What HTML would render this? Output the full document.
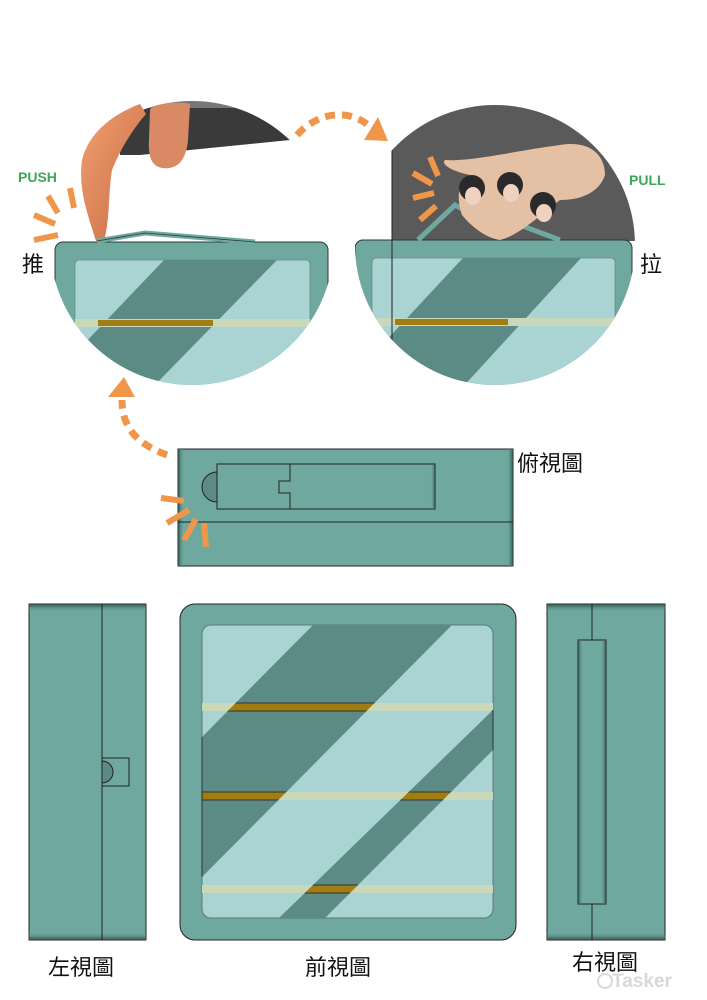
<!DOCTYPE html>
<html><head><meta charset="utf-8"><style>
html,body{margin:0;padding:0;background:#fff;width:707px;height:1000px;overflow:hidden}
svg{display:block}
.lbl{font-family:"Liberation Sans","Noto Sans CJK TC",sans-serif;font-size:22px;fill:#111}
</style></head><body>
<svg width="707" height="1000" viewBox="0 0 707 1000" xmlns="http://www.w3.org/2000/svg">
<defs>
<clipPath id="cL"><circle cx="192" cy="243" r="142"/></clipPath>
<clipPath id="cR"><circle cx="495" cy="245" r="140"/></clipPath>
<clipPath id="darkF"><polygon points="313,625 452,625 202,877 202,737"/><polygon points="493,710 493,750 325,918 279,918"/></clipPath>
<linearGradient id="gt" x1="0" y1="0" x2="0" y2="1"><stop offset="0" stop-color="#2f4f4b"/><stop offset="1" stop-color="#6ea89f" stop-opacity="0"/></linearGradient>
<linearGradient id="gr" x1="1" y1="0" x2="0" y2="0"><stop offset="0" stop-color="#2f4f4b"/><stop offset="1" stop-color="#6ea89f" stop-opacity="0"/></linearGradient>
<linearGradient id="gl" x1="0" y1="0" x2="1" y2="0"><stop offset="0" stop-color="#2f4f4b"/><stop offset="1" stop-color="#6ea89f" stop-opacity="0"/></linearGradient>
<linearGradient id="skin" x1="0" y1="0" x2="1" y2="1"><stop offset="0" stop-color="#f0a070"/><stop offset="1" stop-color="#c86a45"/></linearGradient>
</defs>

<!-- LEFT CIRCLE -->
<g clip-path="url(#cL)">
 <rect x="100" y="100" width="200" height="8" fill="#777"/>
 <polygon points="120,108 300,108 300,140 290,140 140,155 120,155" fill="#3a3a3a"/>
 <rect x="55" y="242" width="273" height="160" rx="8" fill="#6ea89f" stroke="#2a3a38"/>
 <rect x="75" y="260" width="235" height="140" rx="4" fill="#aad3d4" stroke="#6a8a88" stroke-width="0.8"/>
 <polygon points="164,260 277,260 150,390 40,390" fill="#5c8a84"/>
 <rect x="75" y="319" width="235" height="8" fill="#c8d8b8"/>
 <rect x="98" y="320" width="115" height="6" fill="#a07d14"/>
</g>
<path d="M96,241 C88,215 78,190 82,160 C88,135 110,115 140,104 L146,114 C132,130 120,150 112,170 C108,195 110,220 104,241 Z" fill="url(#skin)"/>
<path d="M150,110 C152,103 182,101 190,104 L188,140 C186,162 176,170 162,168 C152,166 148,158 149,140 Z" fill="#d98a65"/>
<path d="M97,241 L145,233 L255,242" fill="none" stroke="#6ea89f" stroke-width="5"/>
<path d="M97,241 L145,233 L255,242" fill="none" stroke="#2a3a38" stroke-width="0.8"/>

<!-- RIGHT CIRCLE -->
<g clip-path="url(#cR)">
 <rect x="392" y="100" width="260" height="141" fill="#5a5a5a"/>
 <rect x="355" y="240" width="277" height="160" rx="8" fill="#6ea89f" stroke="#2a3a38"/>
 <rect x="372" y="258" width="243" height="140" rx="4" fill="#aad3d4" stroke="#6a8a88" stroke-width="0.8"/>
 <polygon points="463,258 581,258 460,390 340,390" fill="#5c8a84"/>
 <rect x="372" y="318" width="243" height="8" fill="#c8d8b8"/>
 <rect x="395" y="319" width="113" height="6" fill="#a07d14"/>
 <line x1="392" y1="148" x2="392" y2="345" stroke="#222" stroke-width="1"/>
</g>
<path d="M418,240 L455,205 L485,222 M520,225 L560,240" fill="none" stroke="#6ea89f" stroke-width="5"/>
<path d="M445,160 C470,162 520,150 560,145 C590,140 605,155 605,175 C600,190 585,200 560,200 C540,215 520,235 500,240 C485,238 470,225 462,215 C455,195 460,180 470,175 C455,172 440,165 445,160 Z" fill="#e4c0a5"/>
<circle cx="472" cy="188" r="13" fill="#2a2a2a"/><ellipse cx="473" cy="196" rx="8" ry="9" fill="#f0d2c0"/>
<circle cx="510" cy="185" r="13" fill="#2a2a2a"/><ellipse cx="511" cy="193" rx="8" ry="9" fill="#f0d2c0"/>
<circle cx="543" cy="205" r="13" fill="#2a2a2a"/><ellipse cx="544" cy="213" rx="8" ry="9" fill="#f0d2c0"/>

<!-- labels top -->
<text x="18" y="182" font-family="Liberation Sans" font-weight="bold" font-size="14" fill="#3aa65a">PUSH</text>
<text x="629" y="185" font-family="Liberation Sans" font-weight="bold" font-size="14" fill="#3aa65a">PULL</text>
<text class="lbl" x="22" y="272">推</text>
<text class="lbl" x="640" y="272">拉</text>

<!-- arrows -->
<path d="M297,135 C320,110 350,110 368,125" fill="none" stroke="#f0964a" stroke-width="7" stroke-dasharray="10,7"/>
<polygon points="364,140 388,141 378,117" fill="#f0964a"/>
<path d="M167,455 C140,445 122,430 122,400" fill="none" stroke="#f0964a" stroke-width="7" stroke-dasharray="10,7"/>
<polygon points="108,397 135,397 124,377" fill="#f0964a"/>

<!-- TOP VIEW -->
<rect x="178" y="449" width="335" height="117" fill="#6ea89f" stroke="#222"/>
<rect x="178" y="449" width="6" height="117" fill="url(#gl)"/>
<rect x="507" y="449" width="6" height="117" fill="url(#gr)"/>
<line x1="178" y1="522" x2="513" y2="522" stroke="#222"/>
<path d="M217,472 A15,15 0 0 0 217,502 Z" fill="#5c8a84" stroke="#222"/>
<path d="M217,464 H435 V509 H217 Z M290,464 V481 H279 V493 H290 V509" fill="none" stroke="#222"/>
<rect x="431" y="465" width="4" height="44" fill="url(#gr)"/>
<text class="lbl" x="517" y="471">俯視圖</text>

<!-- bursts (on top) -->
<g stroke="#f0964a" stroke-width="6">
 <line x1="70" y1="188" x2="74" y2="208"/><line x1="48" y1="196" x2="58" y2="213"/><line x1="34" y1="215" x2="55" y2="224"/><line x1="34" y1="240" x2="58" y2="235"/>
 <line x1="430" y1="157" x2="438" y2="176"/><line x1="413" y1="173" x2="432" y2="184"/><line x1="413" y1="198" x2="434" y2="193"/><line x1="420" y1="220" x2="436" y2="206"/>
 <line x1="161" y1="498" x2="184" y2="501"/><line x1="167" y1="523" x2="189" y2="510"/><line x1="184" y1="540" x2="196" y2="519"/><line x1="206" y1="547" x2="204" y2="523"/>
</g>

<!-- LEFT VIEW -->
<rect x="29" y="604" width="117" height="336" fill="#6ea89f" stroke="#222"/>
<rect x="29" y="604" width="117" height="8" fill="url(#gt)"/>
<rect x="29" y="932" width="117" height="8" fill="url(#gt)" transform="rotate(180 87.5 936)"/>
<line x1="102" y1="604" x2="102" y2="940" stroke="#222"/>
<rect x="102" y="758" width="27" height="28" fill="#6ea89f" stroke="#222"/>
<path d="M102,761 A11,11 0 0 1 102,783 Z" fill="#5c8a84" stroke="#222"/>

<!-- FRONT VIEW -->
<rect x="180" y="604" width="336" height="336" rx="15" fill="#6ea89f" stroke="#222"/>
<rect x="202" y="625" width="291" height="293" rx="9" fill="#aad3d4" stroke="#5a7a78"/>
<polygon points="313,625 452,625 202,877 202,737" fill="#5c8a84"/>
<polygon points="493,710 493,750 325,918 279,918" fill="#5c8a84"/>
<rect x="202" y="703" width="291" height="8" fill="#c8d8b8"/>
<rect x="202" y="792" width="291" height="8" fill="#c8d8b8"/>
<rect x="202" y="885" width="291" height="8" fill="#c8d8b8"/>
<g clip-path="url(#darkF)">
 <rect x="202" y="703" width="291" height="8" fill="#a07d14" stroke="#222" stroke-width="0.8"/>
 <rect x="202" y="792" width="291" height="8" fill="#a07d14" stroke="#222" stroke-width="0.8"/>
 <rect x="202" y="885" width="291" height="8" fill="#a07d14" stroke="#222" stroke-width="0.8"/>
</g>
<line x1="202" y1="737" x2="202" y2="877" stroke="#222" stroke-width="0.8"/>
<line x1="493" y1="710" x2="493" y2="750" stroke="#222" stroke-width="0.8"/>
<text class="lbl" x="305" y="975">前視圖</text>

<!-- RIGHT VIEW -->
<rect x="547" y="604" width="118" height="336" fill="#6ea89f" stroke="#222"/>
<rect x="547" y="604" width="118" height="8" fill="url(#gt)"/>
<rect x="547" y="932" width="118" height="8" fill="url(#gt)" transform="rotate(180 606 936)"/>
<line x1="592" y1="604" x2="592" y2="940" stroke="#222"/>
<rect x="578" y="640" width="28" height="264" fill="#6ea89f" stroke="#222"/>
<rect x="578" y="640" width="5" height="264" fill="url(#gl)"/>
<rect x="601" y="640" width="5" height="264" fill="url(#gr)"/>
<text class="lbl" x="48" y="975">左視圖</text>
<text class="lbl" x="572" y="970">右視圖</text>
<text x="612" y="987" font-family="Liberation Sans" font-weight="bold" font-size="19" fill="#d8d8d8">Tasker</text>
<circle cx="605" cy="981" r="7" fill="none" stroke="#d8d8d8" stroke-width="2"/>
</svg>
</body></html>
